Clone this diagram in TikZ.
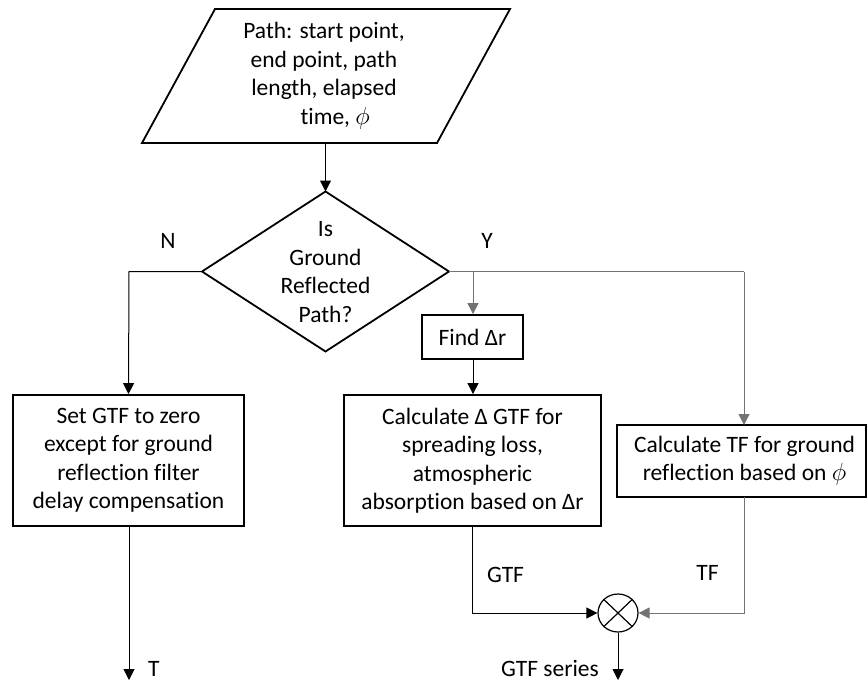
\documentclass[tikz,border=0pt]{standalone}
\usepackage{fontspec}
\setmainfont{Carlito}[Ligatures=NoCommon]
\usetikzlibrary{arrows.meta,shapes.geometric}

\begin{document}
\begin{tikzpicture}[x=1pt,y=-1pt,
  txt/.style={inner sep=0pt, align=center, font=\fontsize{23.5}{28.5}\selectfont},
  lab/.style={inner sep=0pt, font=\fontsize{23.5}{28.5}\selectfont},
  box/.style={txt, draw, line width=1.8pt},
  shapeline/.style={line width=1.8pt, line join=miter},
  conn/.style={line width=1pt, -{Triangle[width=11pt,length=11pt]}},
  link/.style={line width=1pt},
  greyline/.style={draw=black!55}
]
\useasboundingbox (0,0) rectangle (867,682);

% input parallelogram
\draw[shapeline] (215,9) -- (510,9) -- (437,143) -- (142,143) -- cycle;
\node[txt] (input) at (324,76) {Path: start point,\\end point, path\\length, elapsed\\\hspace*{0.95em}time, $\phi$};
\coordinate (inbot) at (325.5,143);

% decision diamond
\coordinate (dtop) at (325.5,191.5);
\coordinate (dleft) at (202,271.5);
\coordinate (dright) at (449,271.5);
\coordinate (dbot) at (325.5,351.5);
\draw[shapeline] (dtop) -- (dright) -- (dbot) -- (dleft) -- cycle;
\node[txt] (decide) at (325.5,272) {Is\\Ground\\Reflected\\Path?};

% process boxes
\node[box, minimum width=231pt, minimum height=131pt] (zero) at (128.5,460.5)
  {Set GTF to zero\\except for ground\\reflection filter\\delay compensation};
\node[box, minimum width=101pt, minimum height=44pt] (find) at (472.5,337) {Find Δr};
\node[box, minimum width=257pt, minimum height=131pt] (calc) at (472.5,460.5)
  {Calculate Δ GTF for\\spreading loss,\\atmospheric\\absorption based on Δr};
\node[box, minimum width=249pt, minimum height=72pt] (tf) at (741.5,461)
  {\hspace*{6pt}Calculate TF for ground\\\hspace*{6pt}reflection based on $\phi$};

% multiplier
\node[draw, line width=1.2pt, ellipse, minimum width=40pt, minimum height=38pt, inner sep=0pt] (mult) at (618,613) {};
\draw[line width=1.2pt] (mult.north west) -- (mult.south east);
\draw[line width=1.2pt] (mult.north east) -- (mult.south west);

% connector points
\coordinate (ncorner) at (129,271.5);
\coordinate (ycorner) at (744,271.5);
\coordinate (ybranch) at (473,271.5);
\coordinate (gtfcorner) at (472,613);
\coordinate (tfcorner) at (744,613);
\coordinate (zeroout) at (129,526);
\coordinate (tend) at (129,680);
\coordinate (send) at (618,680);
\coordinate (tfin) at (744,425);
\coordinate (tfout) at (744,497);

% connectors
\draw[conn] (inbot) -- (dtop);
\draw[conn] (dleft) -- (ncorner) -- (zero.north);
\draw[link, greyline] (dright) -- (ycorner);
\draw[conn, greyline] (ycorner) -- (tfin);
\draw[conn, greyline] (ybranch) -- (find.north -| ybranch);
\draw[conn] (find.south -| ybranch) -- (calc.north -| ybranch);
\draw[conn] (calc.south -| gtfcorner) -- (gtfcorner) -- (mult.west);
\draw[conn, greyline] (tfout) -- (tfcorner) -- (mult.east);
\draw[conn] (mult.south) -- (send);
\draw[conn] (zeroout) -- (tend);

% labels
\node[lab, anchor=base] (nlab) at (168,248) {N};
\node[lab, anchor=base] (ylab) at (487,248) {Y};
\node[lab, anchor=base] (gtflab) at (505.5,582) {GTF};
\node[lab, anchor=base] (tflab) at (707.5,580) {TF};
\node[lab, anchor=base west] (tlab) at (148,676) {T};
\node[lab, anchor=base east] (serieslab) at (599,676) {GTF series};
\end{tikzpicture}
\end{document}
